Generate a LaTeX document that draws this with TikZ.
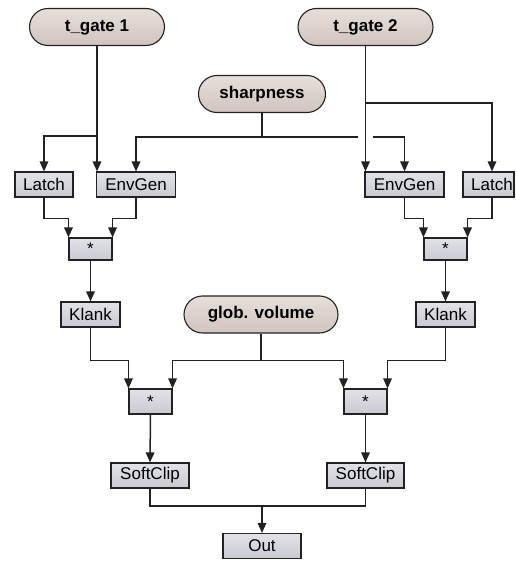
\documentclass[tikz,border=0pt]{standalone}
\usepackage{fontspec}
\setmainfont{Liberation Sans}
\usetikzlibrary{arrows.meta,calc}
\definecolor{boxtop}{HTML}{E2E3E8}
\definecolor{boxbot}{HTML}{C9CAD2}
\definecolor{pilltop}{HTML}{E6DFDA}
\definecolor{pillbot}{HTML}{CFC5BD}
\definecolor{edge}{HTML}{222222}
\begin{document}
\begin{tikzpicture}[x=1pt,y=-1pt,
  ugen/.style={draw=edge, line width=1.1pt, top color=boxtop, bottom color=boxbot,
    minimum height=25pt, inner sep=0pt, font=\fontsize{17}{17}\selectfont},
  mulbox/.style={ugen, minimum width=43pt},
  pill/.style={draw=edge, line width=1.1pt, top color=pilltop, bottom color=pillbot,
    rounded corners=18.5pt, minimum height=37pt, inner sep=0pt,
    font=\fontsize{17}{17}\selectfont\bfseries},
  conn/.style={line width=1.5pt, draw=edge},
  arr/.style={conn, -{Triangle[length=10pt,width=8.5pt]}}]
\useasboundingbox (0,0) rectangle (515,561);

% inputs
\node[pill, minimum width=135pt] (tg1) at (97,27) {t\_gate 1};
\node[pill, minimum width=135pt] (tg2) at (365.5,27) {t\_gate 2};
\node[pill, minimum width=127pt] (sharp) at (262,94) {sharpness};
\node[pill, minimum width=154pt] (gv) at (261,314.5) {glob. volume};

% ugens
\node[ugen, minimum width=58pt] (latch1) at (44,184.5) {Latch};
\node[ugen, minimum width=79pt] (env1) at (136,184.5) {EnvGen};
\node[ugen, minimum width=79pt] (env2) at (404.5,184.5) {EnvGen};
\node[ugen, minimum width=51pt] (latch2) at (488.5,184.5) {\hspace*{7pt}Latch};
\node[mulbox, minimum height=22pt] (mul1) at (90.5,249) {*};
\node[mulbox, minimum height=22pt] (mul2) at (445.5,249) {*};
\node[ugen, minimum width=59pt] (klank1) at (90.5,314.5) {Klank};
\node[ugen, minimum width=59pt] (klank2) at (445.5,314.5) {Klank};
\node[mulbox] (mul3) at (150.5,401.5) {*};
\node[mulbox] (mul4) at (365.5,401.5) {*};
\node[ugen, minimum width=78pt] (sc1) at (150,475.5) {SoftClip};
\node[ugen, minimum width=77pt] (sc2) at (365.5,475.5) {SoftClip};
\node[ugen, minimum width=78pt] (out) at (262,546) {Out};

% t_gate 1
\coordinate (j1) at (97,136);
\draw[arr] (tg1.south) -- (tg1.south |- env1.north);
\draw[arr] (j1) -| (latch1.north);

% sharpness
\coordinate (js) at (262,137);
\coordinate (hopL) at (358,137);
\coordinate (hopR) at (373,137);
\draw[conn] (sharp.south) -- (js);
\draw[arr] (js) -| (env1.north);
\draw[conn] (js) -- (hopL);
\draw[arr] (hopR) -| (env2.north);

% t_gate 2
\coordinate (j2) at (365.5,103);
\coordinate (l2in) at ($(latch2.north)+(3.5,0)$);
\coordinate (l2out) at ($(latch2.south)+(3.5,0)$);
\draw[arr] (tg2.south) -- (tg2.south |- env2.north);
\draw[arr] (j2) -| (l2in);

% multiplications
\draw[arr] (latch1.south) -- ++(0,21) -| (mul1.north west);
\draw[arr] (env1.south) -- ++(0,21) -| (mul1.north east);
\draw[arr] (env2.south) -- ++(0,21) -| (mul2.north west);
\draw[arr] (l2out) -- ++(0,21) -| (mul2.north east);
\draw[arr] (mul1.south) -- (klank1.north);
\draw[arr] (mul2.south) -- (klank2.north);

% global volume
\draw[conn] (gv.south) -- ++(0,27) coordinate (jg);
\draw[arr] (klank1.south) -- ++(0,33) -| (mul3.north west);
\draw[arr] (jg) -| (mul3.north east);
\draw[arr] (jg) -| (mul4.north west);
\draw[arr] (klank2.south) -- ++(0,33) -| (mul4.north east);
\draw[arr] (mul3.south) -- (sc1.north);
\draw[arr] (mul4.south) -- (sc2.north);

% output
\coordinate (jo) at (262,506);
\draw[conn] (sc1.south) |- (jo);
\draw[conn] (sc2.south) |- (jo);
\draw[arr] (jo) -- (out.north);
\end{tikzpicture}
\end{document}
